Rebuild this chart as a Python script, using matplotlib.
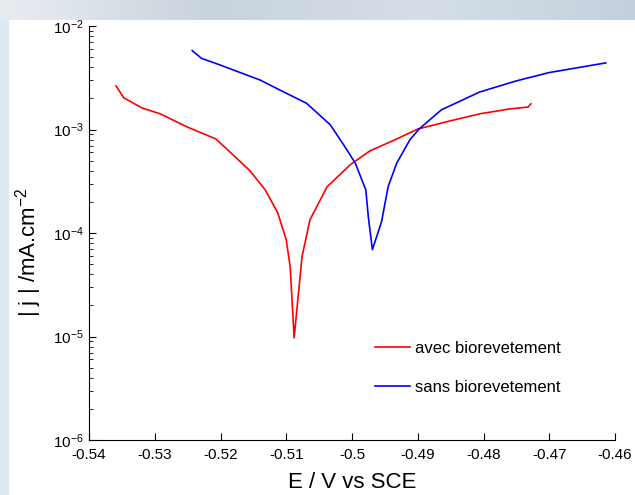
import numpy as np
import matplotlib
matplotlib.use("Agg")
import matplotlib.pyplot as plt
from matplotlib.patches import Rectangle

plt.rcParams['font.family'] = ['Liberation Sans', 'DejaVu Sans']
plt.rcParams['mathtext.fontset'] = 'custom'
plt.rcParams['mathtext.rm'] = 'Liberation Sans'
plt.rcParams['mathtext.it'] = 'Liberation Sans:italic'

# avec biorevetement (red)
e_avec = [-0.5359, -0.5347, -0.5319, -0.5292, -0.5251, -0.5207, -0.5186, -0.5155,
          -0.5132, -0.5113, -0.5100, -0.5094, -0.5088, -0.5076, -0.5064, -0.5038,
          -0.5003, -0.4973, -0.4935, -0.4900, -0.4851, -0.4805, -0.4760, -0.4732,
          -0.4728]
j_avec = [2.64e-3, 2.02e-3, 1.61e-3, 1.42e-3, 1.06e-3, 8.1e-4, 6.1e-4, 3.98e-4,
          2.61e-4, 1.57e-4, 8.6e-5, 4.7e-5, 9.7e-6, 5.9e-5, 1.34e-4, 2.79e-4,
          4.55e-4, 6.2e-4, 7.94e-4, 1.01e-3, 1.21e-3, 1.42e-3, 1.58e-3, 1.65e-3,
          1.77e-3]

# sans biorevetement (blue)
e_sans = [-0.5243, -0.5229, -0.5201, -0.5140, -0.5110, -0.5069, -0.5033, -0.5011,
          -0.4995, -0.4985, -0.4979, -0.4975, -0.4969, -0.4955, -0.4945, -0.4932,
          -0.4912, -0.4898, -0.4864, -0.4806, -0.4750, -0.4700, -0.4614]
j_sans = [5.78e-3, 4.87e-3, 4.21e-3, 3.01e-3, 2.41e-3, 1.79e-3, 1.11e-3, 6.84e-4,
          4.73e-4, 3.26e-4, 2.61e-4, 1.40e-4, 6.9e-5, 1.29e-4, 2.81e-4, 4.73e-4,
          7.94e-4, 1.01e-3, 1.55e-3, 2.3e-3, 2.95e-3, 3.55e-3, 4.4e-3]

x_ticks = [-0.54, -0.53, -0.52, -0.51, -0.5, -0.49, -0.48, -0.47, -0.46]
x_labels = ['-0.54', '-0.53', '-0.52', '-0.51', '-0.5', '-0.49', '-0.48', '-0.47', '-0.46']

fig = plt.figure(figsize=(6.35, 4.95), dpi=100)
fig.patch.set_facecolor('white')

# slide background strips
top = fig.add_axes([0, 1 - 20 / 495, 1, 20 / 495])
grad = np.linspace(0, 1, 256).reshape(1, -1)
top.imshow(grad, aspect='auto', cmap=matplotlib.colors.LinearSegmentedColormap.from_list(
    'bg', ['#e8edf2', '#c9d3dc', '#d6dfe8', '#c3d0dc']), extent=[0, 1, 0, 1])
top.axis('off')
fig.add_artist(Rectangle((0, 0), 8 / 635, 1, transform=fig.transFigure,
                         color='#dde9f3', zorder=0))

ax = fig.add_axes([89 / 635, 1 - 440 / 495, 526 / 635, 414 / 495])
ax.plot(e_avec, j_avec, color='red', lw=1.2, label='avec biorevetement')
ax.plot(e_sans, j_sans, color='blue', lw=1.2, label='sans biorevetement')

ax.set_yscale('log')
ax.set_xlim(-0.54, -0.46)
ax.set_ylim(1e-6, 1e-2)
ax.set_xticks(x_ticks)
ax.set_xticklabels(x_labels)
ax.spines['top'].set_visible(False)
ax.spines['right'].set_visible(False)
ax.tick_params(which='both', direction='in', labelsize=11)
ax.tick_params(which='major', length=5)
ax.tick_params(which='minor', length=3)
ax.tick_params(axis='x', pad=6)

ax.set_xlabel('E / V vs SCE', fontsize=16, labelpad=7)
ax.set_ylabel('| j | /mA.cm$^{-2}$', fontsize=16)
ax.yaxis.set_label_coords(-0.085, 0.454)

ax.legend(frameon=False, loc='center left', bbox_to_anchor=(0.5437, 0.174),
          borderpad=0, borderaxespad=0, handlelength=2.1, handletextpad=0.3,
          labelspacing=1.4, fontsize=12)

fig.savefig('out.png', dpi=100)
